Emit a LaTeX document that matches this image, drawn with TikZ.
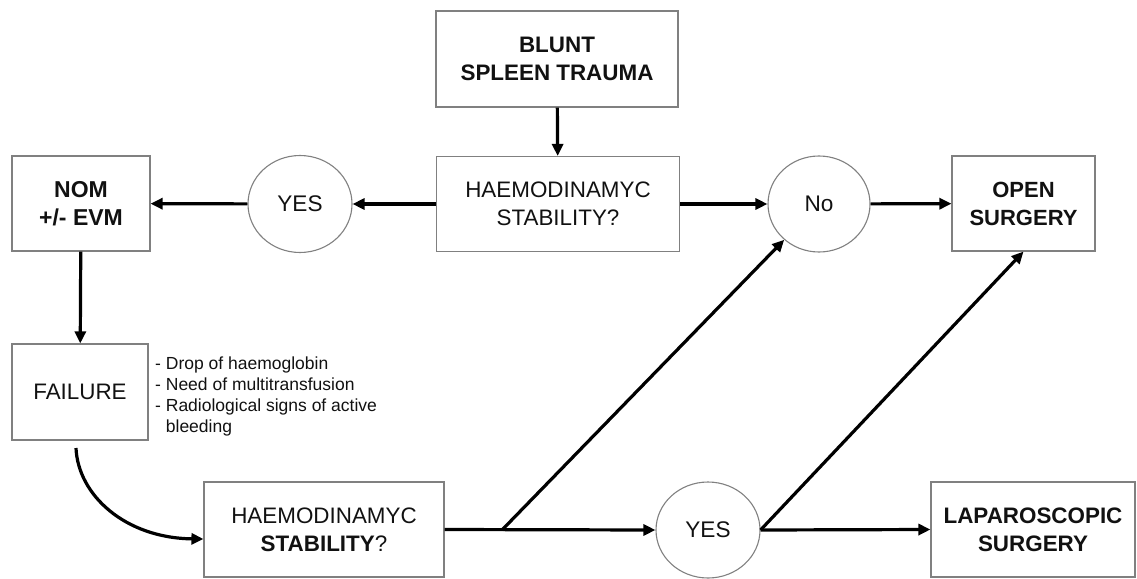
\documentclass[tikz,border=0pt]{standalone}
\usepackage{fontspec}
\setmainfont{Liberation Sans}
\usetikzlibrary{arrows.meta,shapes.geometric}
\definecolor{boxgray}{HTML}{808080}
\definecolor{txt}{HTML}{111111}
\begin{document}
\begin{tikzpicture}[x=1pt,y=-1pt,
  box/.style={draw=boxgray, line width=1.1pt, rectangle, inner sep=0pt, align=center,
    text=txt, font=\fontsize{22.4}{28}\selectfont},
  oval/.style={draw=boxgray, line width=1.1pt, ellipse, inner sep=0pt, align=center,
    text=txt, font=\fontsize{22.6}{28}\selectfont, minimum width=104pt, minimum height=97pt},
  arr/.style={line width=3.2pt, -{Triangle[length=12pt,width=11pt]}}]
\useasboundingbox (0,0) rectangle (1137,578);
% boxes
\node[box, minimum width=242pt, minimum height=96pt] (blunt) at (557,59) {\textbf{BLUNT}\\\textbf{SPLEEN TRAUMA}};
\node[box, minimum width=243pt, minimum height=95pt] (haemoA) at (558,204) {HAEMODINAMYC\\STABILITY?};
\node[oval] (yesA) at (300,204) {YES};
\node[box, minimum width=138pt, minimum height=95pt, font=\fontsize{23}{28}\selectfont] (nom) at (81,203.5) {\textbf{NOM}\\\textbf{+/- EVM}};
\node[oval, minimum width=102pt, minimum height=96pt] (no) at (819,204) {No};
\node[box, minimum width=143pt, minimum height=95pt, font=\fontsize{22}{28}\selectfont] (open) at (1023.5,203.5) {\textbf{OPEN}\\\textbf{SURGERY}};
\node[box, minimum width=136pt, minimum height=96pt] (failure) at (80,392) {FAILURE};
\node[anchor=north west, inner sep=0pt, align=left, text=txt,
  font=\fontsize{17.5}{21}\selectfont] (list) at (155,357)
  {- Drop of haemoglobin\\- Need of multitransfusion\\- Radiological signs of active\\\phantom{- }bleeding};
\node[box, minimum width=240pt, minimum height=95pt] (haemoB) at (324,529.5) {HAEMODINAMYC\\\textbf{STABILITY}?};
\node[oval, minimum height=96pt] (yesB) at (708,530) {YES};
\node[box, minimum width=204pt, minimum height=95pt] (lap) at (1033,529.5) {\textbf{LAPAROSCOPIC}\\\textbf{SURGERY}};
% connectors
\draw[arr] (blunt) -- (haemoA);
\draw[arr] (haemoA) -- (yesA);
\draw[arr] (yesA) -- (nom);
\draw[arr] (haemoA) -- (no);
\draw[arr] (no) -- (open);
\draw[arr] (nom) -- (failure);
\coordinate (cstart) at (76,448);
\draw[arr] (cstart) .. controls (78,495) and (125,538) .. ([yshift=-9.5pt]haemoB.west);
\coordinate (junc) at (502,530);
\draw[arr] (haemoB.east) -- (yesB.west);
\draw[arr] (junc) -- (no);
\draw[arr] (yesB.east) -- (open.south);
\draw[arr] (yesB.east) -- (lap.west);
\end{tikzpicture}
\end{document}
